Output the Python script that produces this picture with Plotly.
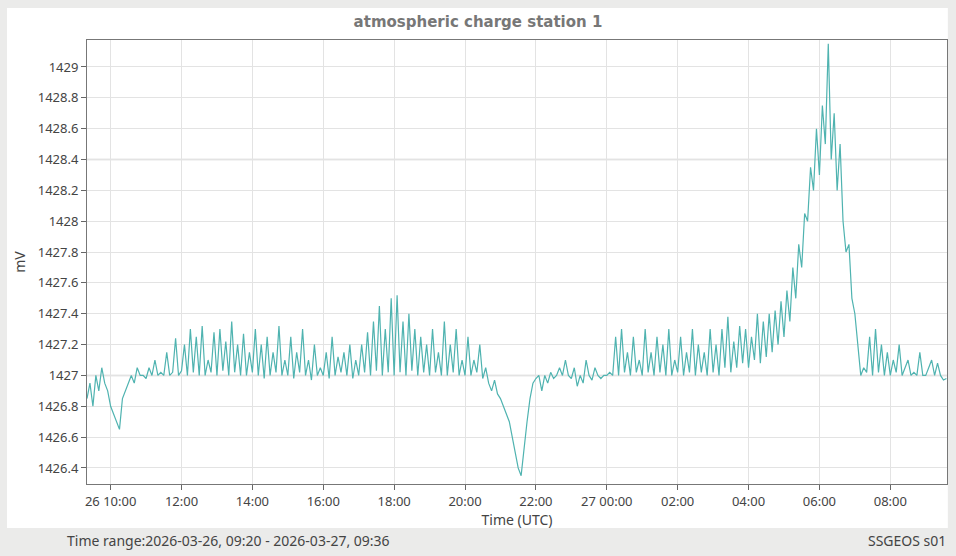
import pandas as pd
import plotly.graph_objects as go

# 5-minute readings, 2026-03-26 09:20 to 2026-03-27 09:35 (UTC), mV
start = "2026-03-26 09:20"
mv = [
    # 09:20-10:00
    1426.85, 1426.95, 1426.8, 1427.0, 1426.9, 1427.05, 1426.95, 1426.9,
    # 10
    1426.8, 1426.75, 1426.7, 1426.65, 1426.85, 1426.9, 1426.95, 1427.0, 1426.95, 1427.05, 1427.0, 1427.0,
    # 11
    1426.98, 1427.05, 1427.0, 1427.1, 1427.0, 1427.02, 1427.0, 1427.15, 1427.0, 1427.02, 1427.24, 1427.0,
    # 12
    1427.03, 1427.2, 1427.0, 1427.3, 1427.02, 1427.25, 1427.0, 1427.32, 1427.0, 1427.1, 1427.02, 1427.28,
    # 13
    1427.0, 1427.3, 1427.03, 1427.22, 1427.0, 1427.35, 1427.02, 1427.2, 1427.0, 1427.27, 1427.0, 1427.15,
    # 14
    1427.02, 1427.3, 1427.0, 1427.2, 1426.98, 1427.25, 1427.0, 1427.15, 1427.02, 1427.32, 1427.0, 1427.1,
    # 15
    1427.0, 1427.25, 1426.98, 1427.15, 1427.02, 1427.3, 1427.0, 1427.1, 1426.97, 1427.2, 1427.0, 1427.05,
    # 16
    1427.0, 1427.15, 1426.98, 1427.25, 1427.0, 1427.12, 1427.02, 1427.15, 1427.0, 1427.2, 1426.98, 1427.1,
    # 17
    1427.0, 1427.2, 1427.02, 1427.28, 1427.0, 1427.35, 1427.03, 1427.45, 1427.0, 1427.3, 1427.02, 1427.5,
    # 18
    1427.0, 1427.52, 1427.02, 1427.35, 1427.0, 1427.4, 1427.03, 1427.3, 1427.0, 1427.25, 1427.02, 1427.2,
    # 19
    1427.0, 1427.3, 1427.02, 1427.15, 1427.0, 1427.35, 1427.0, 1427.2, 1427.02, 1427.3, 1427.0, 1427.1,
    # 20
    1427.0, 1427.25, 1427.0, 1427.1, 1427.02, 1427.2, 1426.98, 1427.05, 1426.95, 1426.9, 1426.97, 1426.88,
    # 21
    1426.85, 1426.8, 1426.75, 1426.7, 1426.6, 1426.5, 1426.4, 1426.35, 1426.55, 1426.7, 1426.85, 1426.95,
    # 22
    1426.98, 1427.0, 1426.9, 1427.0, 1426.95, 1427.02, 1426.98, 1427.0, 1427.05, 1427.0, 1427.1, 1427.0,
    # 23
    1426.98, 1427.05, 1426.93, 1427.0, 1426.95, 1427.1, 1427.0, 1426.97, 1427.05, 1427.0, 1426.98, 1427.0,
    # 00
    1427.0, 1427.02, 1427.0, 1427.25, 1427.0, 1427.3, 1427.02, 1427.15, 1427.0, 1427.25, 1427.02, 1427.1,
    # 01
    1427.0, 1427.3, 1427.02, 1427.15, 1427.0, 1427.25, 1427.02, 1427.2, 1427.0, 1427.3, 1427.0, 1427.1,
    # 02
    1427.02, 1427.25, 1427.0, 1427.15, 1427.02, 1427.3, 1427.0, 1427.2, 1427.02, 1427.15, 1427.0, 1427.3,
    # 03
    1427.02, 1427.2, 1427.0, 1427.3, 1427.05, 1427.38, 1427.02, 1427.22, 1427.05, 1427.32, 1427.08, 1427.3,
    # 04
    1427.05, 1427.25, 1427.1, 1427.4, 1427.08, 1427.35, 1427.12, 1427.4, 1427.15, 1427.42, 1427.2, 1427.48,
    # 05
    1427.25, 1427.55, 1427.35, 1427.7, 1427.5, 1427.85, 1427.7, 1428.05, 1428.0, 1428.35, 1428.2, 1428.6,
    # 06
    1428.3, 1428.75, 1428.5, 1429.15, 1428.4, 1428.7, 1428.2, 1428.5, 1428.0, 1427.8, 1427.85, 1427.5,
    # 07
    1427.4, 1427.2, 1427.0, 1427.05, 1427.02, 1427.25, 1427.0, 1427.3, 1427.02, 1427.2, 1427.0, 1427.15,
    # 08
    1427.0, 1427.1, 1427.02, 1427.2, 1427.0, 1427.05, 1427.1, 1427.0, 1427.02, 1427.0, 1427.15, 1427.0,
    # 09:00-09:35
    1427.0, 1427.05, 1427.1, 1427.0, 1427.08, 1427.0, 1426.97, 1426.98,
]
times = pd.date_range(start, periods=len(mv), freq="5min")

tick_vals = pd.date_range("2026-03-26 10:00", "2026-03-27 08:00", freq="2h")
tick_text = ["26 10:00", "12:00", "14:00", "16:00", "18:00", "20:00", "22:00",
             "27 00:00", "02:00", "04:00", "06:00", "08:00"]

fig = go.Figure()
fig.add_trace(go.Scatter(x=times, y=mv, mode="lines",
                         line=dict(color="#4fb3b0", width=1.2)))

# white card on grey background
fig.add_shape(type="rect", xref="paper", yref="paper", x0=-0.093, x1=1.001,
              y0=-0.099, y1=1.072, fillcolor="white", line_width=0, layer="below")

font = "Noto Sans, sans-serif"
fig.update_layout(
    width=956, height=556,
    margin=dict(l=87, r=9, t=40, b=72, autoexpand=False),
    paper_bgcolor="#ebebea", plot_bgcolor="white",
    showlegend=False,
    font=dict(family=font, size=13, color="#444"),
    title=dict(text="<b>atmospheric charge station 1</b>", x=0.5, xanchor="center",
               y=1 - 22 / 556, yanchor="middle",
               font=dict(family="DejaVu Sans, sans-serif", size=15, color="#777")),
    xaxis=dict(range=["2026-03-26 09:20", "2026-03-27 09:36"],
               tickvals=tick_vals, ticktext=tick_text,
               showgrid=True, gridcolor="#e3e3e3", ticks="outside", ticklen=5,
               tickcolor="#666", showline=True, linecolor="#777", mirror=True,
               title=dict(text="Time (UTC)", standoff=2, font=dict(size=14))),
    yaxis=dict(range=[1426.296, 1429.175], dtick=0.2, tickformat="~g",
               showgrid=True, gridcolor="#e3e3e3", ticks="outside", ticklen=5,
               tickcolor="#666", showline=True, linecolor="#777", mirror=True,
               zeroline=False, title=dict(text="mV", standoff=8, font=dict(size=14))),
)
for v in [1427.0, 1428.4]:
    fig.add_hline(y=v, line=dict(color="#cfcfcf", width=1.5), layer="below")

fig.add_annotation(text="Time range:2026-03-26, 09:20 - 2026-03-27, 09:36",
                   xref="paper", yref="paper", x=-0.0256, y=-0.128,
                   xanchor="left", yanchor="middle", showarrow=False,
                   font=dict(size=14, color="#444"))
fig.add_annotation(text="SSGEOS s01", xref="paper", yref="paper", x=1.001, y=-0.128,
                   xanchor="right", yanchor="middle", showarrow=False,
                   font=dict(size=14, color="#444"))

fig.write_html("out.html", config={"displayModeBar": False},
               post_script="document.body.style.margin='0';"
                           "document.body.style.background='#ebebea';")
